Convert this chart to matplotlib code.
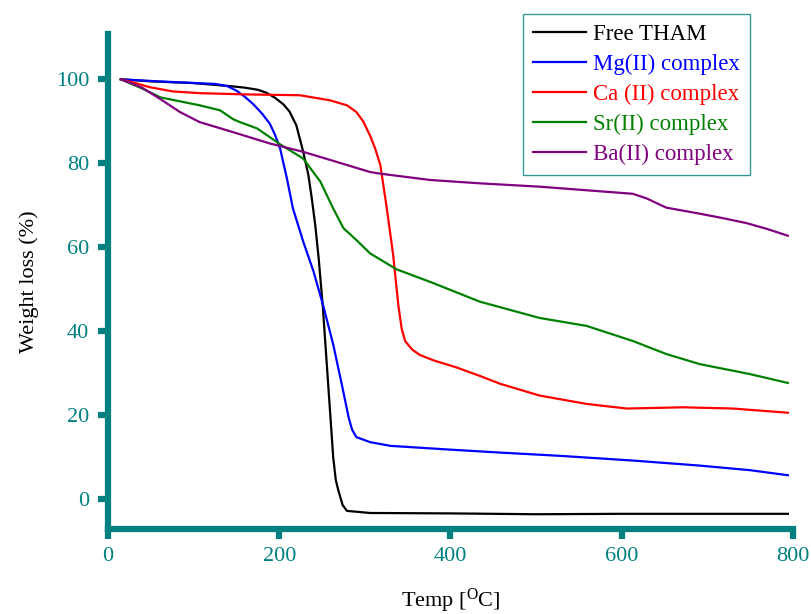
import matplotlib
matplotlib.use("Agg")
import matplotlib.pyplot as plt

plt.rcParams['font.family'] = ['Liberation Serif', 'DejaVu Serif']
plt.rcParams['mathtext.fontset'] = 'custom'
plt.rcParams['mathtext.rm'] = 'Liberation Serif'
plt.rcParams['mathtext.it'] = 'Liberation Serif:italic'

TEAL = '#008080'

# ---- data ----
tham_T = [15, 50, 100, 146, 160, 175, 185, 195, 205, 212, 220, 228, 234, 238, 242, 246, 251, 255, 259, 263, 266, 269, 274, 279, 306, 400, 500, 600, 700, 794]
tham_W = [100, 99.5, 99.1, 98.3, 98.0, 97.5, 96.8, 95.6, 94.0, 92.3, 89.0, 82.7, 77.2, 71.6, 65.3, 57.4, 45.5, 33.6, 21.8, 9.9, 4.5, 2.0, -1.5, -2.9, -3.4, -3.5, -3.7, -3.6, -3.6, -3.6]

mg_T = [15, 60, 107, 125, 139, 150, 160, 170, 180, 189, 195, 201, 209, 216, 228, 240, 251, 263, 273, 281, 285, 290, 306, 330, 400, 458, 530, 613, 691, 750, 794]
mg_W = [100, 99.5, 99.05, 98.9, 98.4, 97.3, 95.8, 94.0, 91.8, 89.4, 86.8, 83.5, 76.3, 69.2, 61.3, 54.2, 46.3, 36.8, 27.3, 19.4, 16.5, 14.7, 13.5, 12.6, 11.7, 11.0, 10.2, 9.1, 7.9, 6.8, 5.6]

ca_T = [15, 30, 49, 76, 107, 160, 224, 259, 279, 290, 298, 306, 312, 318, 325, 333, 339, 343, 347, 355, 364, 380, 407, 434, 458, 504, 559, 606, 672, 730, 794]
ca_W = [100, 99.2, 98.1, 97.1, 96.7, 96.4, 96.2, 95.0, 93.8, 92.2, 90.0, 86.6, 83.5, 79.6, 70.1, 58.2, 46.3, 40.5, 37.6, 35.6, 34.3, 33.0, 31.3, 29.3, 27.4, 24.6, 22.6, 21.5, 21.8, 21.5, 20.5]

sr_T = [15, 40, 61, 107, 131, 146, 154, 174, 189, 201, 228, 248, 263, 275, 290, 306, 337, 380, 434, 504, 559, 613, 652, 691, 750, 794]
sr_W = [100, 97.8, 95.7, 93.8, 92.6, 90.5, 89.8, 88.3, 86.2, 84.5, 81.1, 75.6, 69.2, 64.5, 61.7, 58.5, 54.7, 51.4, 47.0, 43.1, 41.2, 37.6, 34.5, 32.1, 29.7, 27.6]

ba_T = [15, 40, 61, 84, 107, 146, 189, 228, 259, 306, 318, 376, 434, 504, 613, 629, 652, 690, 718, 746, 770, 794]
ba_W = [100, 98.0, 95.3, 92.2, 89.8, 87.4, 84.7, 82.7, 80.8, 77.9, 77.5, 76.0, 75.2, 74.4, 72.7, 71.6, 69.4, 68.0, 66.9, 65.7, 64.3, 62.7]

series = [
    ("Free THAM", tham_T, tham_W, 'black'),
    ("Mg(II) complex", mg_T, mg_W, '#0000FF'),
    ("Ca (II) complex", ca_T, ca_W, '#FF0000'),
    ("Sr(II) complex", sr_T, sr_W, '#008000'),
    ("Ba(II) complex", ba_T, ba_W, '#800080'),
]

x_ticks = [0, 200, 400, 600, 800]
y_ticks = [0, 20, 40, 60, 80, 100]

fig = plt.figure(figsize=(8.12, 6.14), dpi=100)
ax = fig.add_axes([108/812, 1 - 528.5/614, (793 - 108)/812, (528.5 - 34)/614])

for name, T, W, c in series:
    ax.plot(T, W, color=c, lw=1.6, label=name)

ax.set_xlim(0, 800)
ax.set_ylim(-7.1, 110.8)
ax.set_xticks(x_ticks)
ax.set_yticks(y_ticks)

for s in ['top', 'right']:
    ax.spines[s].set_visible(False)
for s in ['left', 'bottom']:
    ax.spines[s].set_color(TEAL)
    ax.spines[s].set_linewidth(4.5)

ax.tick_params(axis='both', direction='out', length=7.5, width=4.5, color=TEAL,
               labelcolor=TEAL, labelsize=16, pad=6)

ax.set_xlabel(r'Temp [$^{\mathrm{O}}$C]', fontsize=16, color='black', labelpad=15)
ax.set_ylabel('Weight loss (%)', fontsize=16, color='black', labelpad=12)

leg = ax.legend(loc='upper left', bbox_to_anchor=(523/812, 1 - 14/614),
                bbox_transform=fig.transFigure, frameon=True, fancybox=False,
                fontsize=16.5, handlelength=2.3, handletextpad=0.3,
                labelspacing=0.38, borderpad=0.45, borderaxespad=0)
leg.get_frame().set_edgecolor(TEAL)
leg.get_frame().set_linewidth(1.0)
for txt, (_, _, _, c) in zip(leg.get_texts(), series):
    txt.set_color(c)

fig.savefig('out.png', dpi=100)
